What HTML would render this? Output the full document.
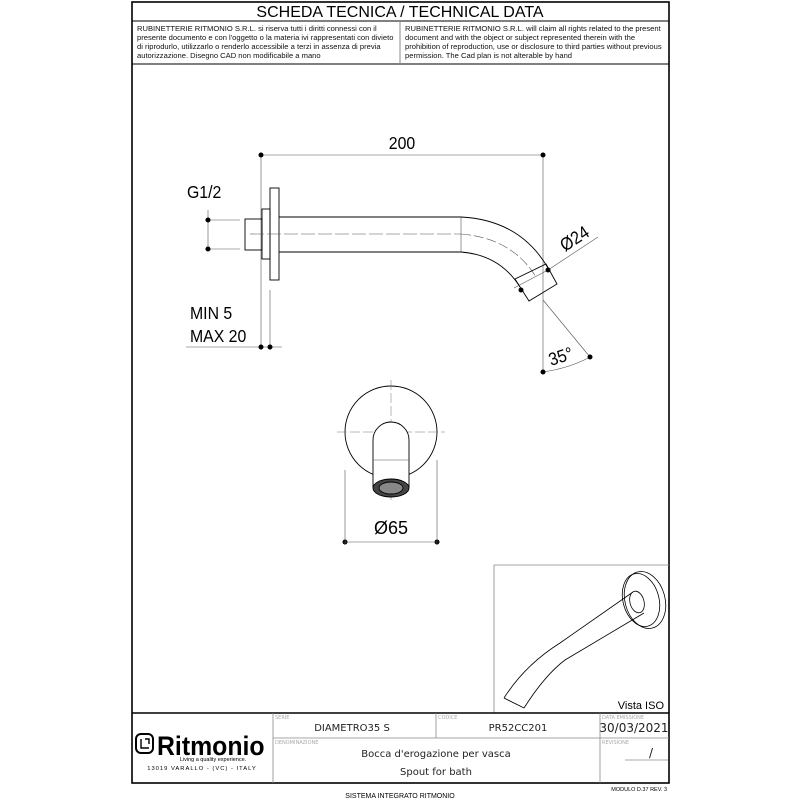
<!DOCTYPE html>
<html><head><meta charset="utf-8"><style>
body{margin:0;background:#fff;}
svg{display:block;font-family:"Liberation Sans",sans-serif;}
.m{font-family:"DejaVu Sans","Liberation Sans",sans-serif;}
</style></head><body>
<svg width="800" height="800" viewBox="0 0 800 800">
<rect x="132" y="2" width="537" height="781" fill="none" stroke="#000" stroke-width="1.6"/>
<line x1="132" y1="21" x2="669" y2="21" stroke="#000" stroke-width="1"/>
<line x1="132" y1="64" x2="669" y2="64" stroke="#000" stroke-width="1"/>
<line x1="400" y1="21" x2="400" y2="64" stroke="#888" stroke-width="1"/>
<text x="400" y="17" font-size="16" text-anchor="middle">SCHEDA TECNICA / TECHNICAL DATA</text>
<g font-size="7.6" fill="#111">
<text x="137" y="31">RUBINETTERIE RITMONIO S.R.L. si riserva tutti i diritti connessi con il</text>
<text x="137" y="40">presente documento e con l'oggetto o la materia ivi rappresentati con divieto</text>
<text x="137" y="49">di riprodurlo, utilizzarlo o renderlo accessibile a terzi in assenza di previa</text>
<text x="137" y="58">autorizzazione. Disegno CAD non modificabile a mano</text>
<text x="405" y="31">RUBINETTERIE RITMONIO S.R.L. will claim all rights related to the present</text>
<text x="405" y="40">document and with the object or subject represented therein with the</text>
<text x="405" y="49">prohibition  of reproduction, use or disclosure to third parties without previous</text>
<text x="405" y="58">permission.  The Cad plan is not alterable by hand</text>
</g>

<g stroke="#000" fill="none" stroke-width="0.9">
<line x1="261" y1="155" x2="543" y2="155" stroke="#555" stroke-width="0.6"/>
<line x1="261" y1="155" x2="261" y2="350" stroke="#555" stroke-width="0.6"/>
<line x1="543" y1="155" x2="543" y2="372" stroke="#555" stroke-width="0.6"/>
<line x1="270" y1="290" x2="270" y2="350" stroke="#555" stroke-width="0.6"/>
<line x1="186" y1="347" x2="282" y2="347" stroke="#555" stroke-width="0.6"/>
<line x1="205" y1="220" x2="240" y2="220" stroke="#555" stroke-width="0.6"/>
<line x1="205" y1="249" x2="240" y2="249" stroke="#555" stroke-width="0.6"/>
<line x1="208" y1="210" x2="208" y2="249" stroke="#555" stroke-width="0.6"/>
<rect x="270" y="188" width="9" height="92"/>
<rect x="262" y="209" width="8" height="50"/>
<rect x="245" y="219" width="17" height="31"/>
<line x1="279" y1="217" x2="461" y2="217"/>
<line x1="279" y1="252" x2="461" y2="252"/>
<line x1="461" y1="217" x2="461" y2="252" stroke="#555" stroke-width="0.6"/>
<line x1="250" y1="234" x2="461" y2="234" stroke="#555" stroke-width="0.6" stroke-dasharray="14,3"/>
<path d="M461 217 Q520 220 548 268"/>
<path d="M461 252 Q500 255 520 287"/>
<path d="M461 234 Q512 238 536 277" stroke="#555" stroke-width="0.6" stroke-dasharray="10,3"/>
<path d="M515 279 L546 264 L557 284 L529 301 Z"/>
<line x1="514" y1="288" x2="548" y2="270" stroke="#555" stroke-width="0.6"/>
<line x1="548" y1="270" x2="598" y2="237" stroke="#555" stroke-width="0.6"/>
<line x1="543" y1="300" x2="590" y2="357" stroke="#555" stroke-width="0.6"/>
<path d="M543 372 Q570 368 590 357" stroke="#555" stroke-width="0.6"/>
</g>
<g fill="#000">
<circle cx="261" cy="155" r="2.5"/><circle cx="543" cy="155" r="2.5"/>
<circle cx="208" cy="220" r="2.5"/><circle cx="208" cy="249" r="2.5"/>
<circle cx="261" cy="347" r="2.5"/><circle cx="270" cy="347" r="2.5"/>
<circle cx="548" cy="270" r="2.5"/><circle cx="521" cy="290" r="2.5"/>
<circle cx="543" cy="372" r="2.5"/><circle cx="590" cy="357" r="2.5"/>
<circle cx="345" cy="542" r="2.5"/><circle cx="437" cy="542" r="2.5"/>
</g>
<g font-size="18" fill="#000">
<text x="402" y="149" text-anchor="middle" transform="translate(402 0) scale(0.88 1) translate(-402 0)">200</text>
<text x="187" y="198" transform="translate(187 0) scale(0.88 1) translate(-187 0)">G1/2</text>
<text x="190" y="319" transform="translate(190 0) scale(0.88 1) translate(-190 0)">MIN 5</text>
<text x="190" y="342" transform="translate(190 0) scale(0.88 1) translate(-190 0)">MAX 20</text>
<text x="0" y="0" transform="translate(565,252) rotate(-33) scale(0.9 1)">Ø24</text>
<text x="0" y="0" transform="translate(551,366) rotate(-18) scale(0.9 1)">35°</text>
<text x="391" y="534" text-anchor="middle">Ø65</text>
</g>

<g stroke="#000" fill="none" stroke-width="0.9">
<circle cx="391" cy="432" r="46"/>
<line x1="391" y1="380" x2="391" y2="500" stroke="#777" stroke-width="0.5" stroke-dasharray="10,3"/>
<line x1="337" y1="432" x2="445" y2="432" stroke="#777" stroke-width="0.5" stroke-dasharray="10,3"/>
<path d="M373 488 L373 440 A18 18 0 0 1 409 440 L409 488" fill="#fff"/>
<line x1="373" y1="460" x2="409" y2="460" stroke="#555" stroke-width="0.6"/>
<ellipse cx="391" cy="488" rx="18" ry="9" fill="#444"/>
<ellipse cx="391" cy="488" rx="12" ry="6" fill="#888"/>
<line x1="345" y1="470" x2="345" y2="545" stroke="#555" stroke-width="0.6"/>
<line x1="437" y1="460" x2="437" y2="545" stroke="#555" stroke-width="0.6"/>
<line x1="345" y1="542" x2="437" y2="542" stroke="#555" stroke-width="0.6"/>
</g>

<g stroke="#000" fill="none" stroke-width="0.8">
<path d="M494 713 L494 565 L669 565" stroke="#888"/>
<ellipse cx="645" cy="600" rx="20" ry="29" transform="rotate(-15 645 600)"/>
<ellipse cx="641" cy="600" rx="18" ry="27" transform="rotate(-15 641 600)"/>
<ellipse cx="637" cy="602" rx="7" ry="11" transform="rotate(-15 637 602)"/>
<path d="M633 592 L560 643 Q525 665 504 698"/>
<path d="M644 613 L565 660 Q545 675 524 708"/>
<path d="M504 698 L524 708"/>
</g>
<text x="664" y="709" font-size="11" text-anchor="end">Vista ISO</text>

<g stroke="#000" fill="none">
<line x1="132" y1="713" x2="669" y2="713" stroke-width="1.4"/>
<line x1="273" y1="713" x2="273" y2="783" stroke="#888" stroke-width="0.8"/>
<line x1="436" y1="713" x2="436" y2="738" stroke="#888" stroke-width="0.8"/>
<line x1="600" y1="713" x2="600" y2="783" stroke="#888" stroke-width="0.8"/>
<line x1="273" y1="738" x2="669" y2="738" stroke="#888" stroke-width="0.8"/>
<line x1="625" y1="760" x2="668" y2="760" stroke="#555" stroke-width="0.6"/>
</g>
<g class="m" fill="#aaa" font-size="5">
<text x="275" y="719">SERIE</text><text x="438" y="719">CODICE</text>
<text x="602" y="719">DATA EMISSIONE</text><text x="275" y="744">DENOMINAZIONE</text>
<text x="602" y="744">REVISIONE</text>
</g>
<g class="m" fill="#222" font-size="10">
<text x="352" y="731" text-anchor="middle">DIAMETRO35 S</text>
<text x="518" y="731" text-anchor="middle">PR52CC201</text>
<text x="634" y="732" text-anchor="middle" font-size="12">30/03/2021</text>
<text x="436" y="757" text-anchor="middle">Bocca d'erogazione per vasca</text>
<text x="436" y="775" text-anchor="middle">Spout for bath</text>
<text x="649" y="757" font-size="12">/</text>
</g>
<rect x="136" y="734" width="17" height="19" rx="5" fill="none" stroke="#000" stroke-width="2"/>
<path d="M141 739 L141 748 L149 748 M145 739 L149 739 L149 744" fill="none" stroke="#000" stroke-width="1.4"/>
<text x="157" y="755" font-size="27" font-weight="bold" transform="translate(157 0) scale(0.92 1) translate(-157 0)">Ritmonio</text>
<text x="213" y="761" font-size="5.5" text-anchor="middle">Living a quality experience.</text>
<text x="202" y="770" font-size="5.8" text-anchor="middle" letter-spacing="1">13019 VARALLO - (VC) - ITALY</text>
<text x="667" y="791" font-size="5.5" text-anchor="end">MODULO D.37 REV. 3</text>
<text x="400" y="798" font-size="7" text-anchor="middle">SISTEMA INTEGRATO RITMONIO</text>
</svg>
</body></html>
